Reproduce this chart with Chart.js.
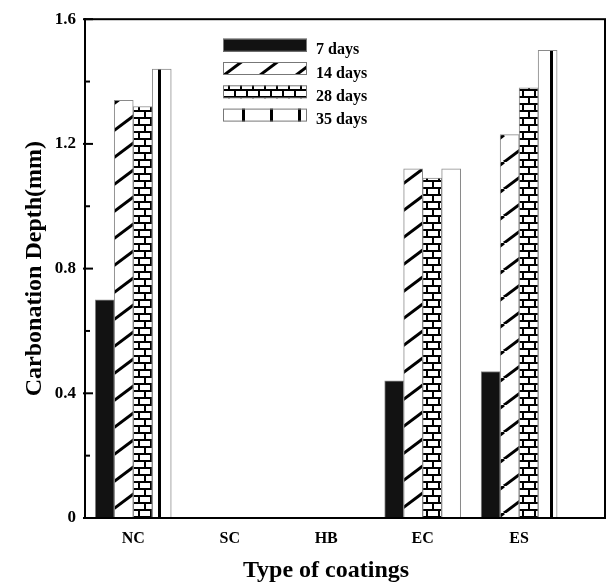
<!DOCTYPE html>
<html><head><meta charset="utf-8">
<script src="https://cdn.jsdelivr.net/npm/chart.js@4.4.0/dist/chart.umd.min.js"></script>
<style>html,body{margin:0;padding:0;background:#fff}</style>
</head><body>
<canvas id="c" width="610" height="587"></canvas>
<script>
const categories = ['NC', 'SC', 'HB', 'EC', 'ES'];
const seriesLabels = ['7 days', '14 days', '28 days', '35 days'];
const days7  = [0.70, 0, 0, 0.44, 0.47];
const days14 = [1.34, 0, 0, 1.12, 1.23];
const days28 = [1.32, 0, 0, 1.09, 1.38];
const days35 = [1.44, 0, 0, 1.12, 1.50];
const yTicks = [0, 0.4, 0.8, 1.2, 1.6];
const yMinorTicks = [0.2, 0.6, 1.0, 1.4];
const xTitle = 'Type of coatings';
const yTitle = 'Carbonation Depth(mm)';

const FONT = "'Liberation Serif', 'Times New Roman', serif";
const canvas = document.getElementById('c');
const ctx = canvas.getContext('2d');

function tile(w, h, draw) {
  const t = document.createElement('canvas');
  t.width = w; t.height = h;
  const g = t.getContext('2d');
  g.fillStyle = '#fff'; g.fillRect(0, 0, w, h);
  draw(g, w, h);
  return ctx.createPattern(t, 'repeat');
}
const solid7 = '#121212';
const hatch14 = tile(36, 27, (g, w, h) => {
  g.strokeStyle = '#000'; g.lineWidth = 3;
  [-w, 0, w].forEach(dx => {
    g.beginPath(); g.moveTo(dx, h); g.lineTo(dx + w, 0); g.stroke();
  });
});
const brick28 = tile(12, 14, (g) => {
  g.fillStyle = '#000'; g.fillRect(0, 0, 12, 14);
  g.fillStyle = '#fff';
  g.fillRect(2, 0, 10, 5);
  g.fillRect(0, 7, 6, 5);
  g.fillRect(8, 7, 4, 5);
});
const vline35 = tile(28, 4, (g) => {
  g.fillStyle = '#000'; g.fillRect(18, 0, 3, 4);
});
const fills = [solid7, hatch14, brick28, vline35];
const seriesValues = [days7, days14, days28, days35];

const framePlugin = {
  id: 'frame',
  afterDatasetsDraw(chart) {
    const a = chart.chartArea, c = chart.ctx, y = chart.scales.y;
    c.save();
    c.strokeStyle = '#000'; c.lineWidth = 2;
    c.strokeRect(a.left, a.top, a.right - a.left, a.bottom - a.top);
    c.lineWidth = 2;
    yTicks.forEach(v => { const p = y.getPixelForValue(v); c.beginPath(); c.moveTo(a.left - 2, p); c.lineTo(a.left + 8, p); c.stroke(); });
    yMinorTicks.forEach(v => { const p = y.getPixelForValue(v); c.beginPath(); c.moveTo(a.left, p); c.lineTo(a.left + 5, p); c.stroke(); });
    c.restore();
  },
  afterDraw(chart) {
    const a = chart.chartArea, c = chart.ctx;
    c.save();
    // legend
    const lx = a.left + 138, ly0 = a.top + 26, step = 23.3, bw = 84, bh = 13;
    chart.data.datasets.forEach((ds, k) => {
      const cy = ly0 + k * step;
      c.fillStyle = ds.backgroundColor;
      c.fillRect(lx, cy - bh / 2, bw, bh);
      c.strokeStyle = '#777'; c.lineWidth = 1;
      c.strokeRect(lx + 0.5, cy - bh / 2 + 0.5, bw - 1, bh - 1);
      c.fillStyle = '#000';
      c.font = 'bold 16px ' + FONT;
      c.textAlign = 'left'; c.textBaseline = 'alphabetic';
      c.fillText(ds.label, lx + bw + 9, cy + 9);
    });
    // x title
    c.font = 'bold 24px ' + FONT;
    c.textAlign = 'center'; c.textBaseline = 'alphabetic';
    c.fillStyle = '#000';
    c.fillText(xTitle, 326, 577);
    c.restore();
  }
};

new Chart(ctx, {
  type: 'bar',
  data: {
    datasets: seriesLabels.map((lab, k) => ({
      label: lab,
      data: seriesValues[k].map((v, i) => ({ x: i + 1, y: v })),
      backgroundColor: fills[k],
      borderColor: '#8a8a8a',
      borderWidth: 1,
      barThickness: 19
    }))
  },
  options: {
    responsive: false,
    animation: false,
    layout: { padding: { top: 12, right: 5, left: 0, bottom: 0 } },
    plugins: { legend: { display: false }, tooltip: { enabled: false } },
    scales: {
      x: {
        type: 'linear', min: 0.5, max: 5.89, offset: false,
        afterBuildTicks: s => { s.ticks = categories.map((_, i) => ({ value: i + 1 })); },
        afterFit: s => { s.height = 69; },
        grid: { display: false, drawTicks: false, offset: false },
        border: { display: true, color: '#000', width: 2 },
        ticks: {
          padding: 11, color: '#000', autoSkip: false, maxRotation: 0,
          font: { family: FONT, size: 16, weight: 'bold' },
          callback: v => categories[Math.round(v) - 1] || ''
        }
      },
      y: {
        min: 0, max: 1.6,
        afterBuildTicks: s => { s.ticks = yTicks.map(v => ({ value: v })); },
        afterFit: s => { s.width = 85; },
        grid: { display: false, drawTicks: false },
        border: { display: true, color: '#000', width: 2 },
        ticks: {
          padding: 9, color: '#000',
          font: { family: FONT, size: 17, weight: 'bold' },
          callback: v => v === 0 ? '0' : v.toFixed(1)
        },
        title: {
          display: true, text: yTitle, color: '#000',
          font: { family: FONT, size: 24, weight: 'bold' },
          padding: { top: 20, bottom: 0 }
        }
      }
    }
  },
  plugins: [framePlugin]
});
</script>
</body></html>
